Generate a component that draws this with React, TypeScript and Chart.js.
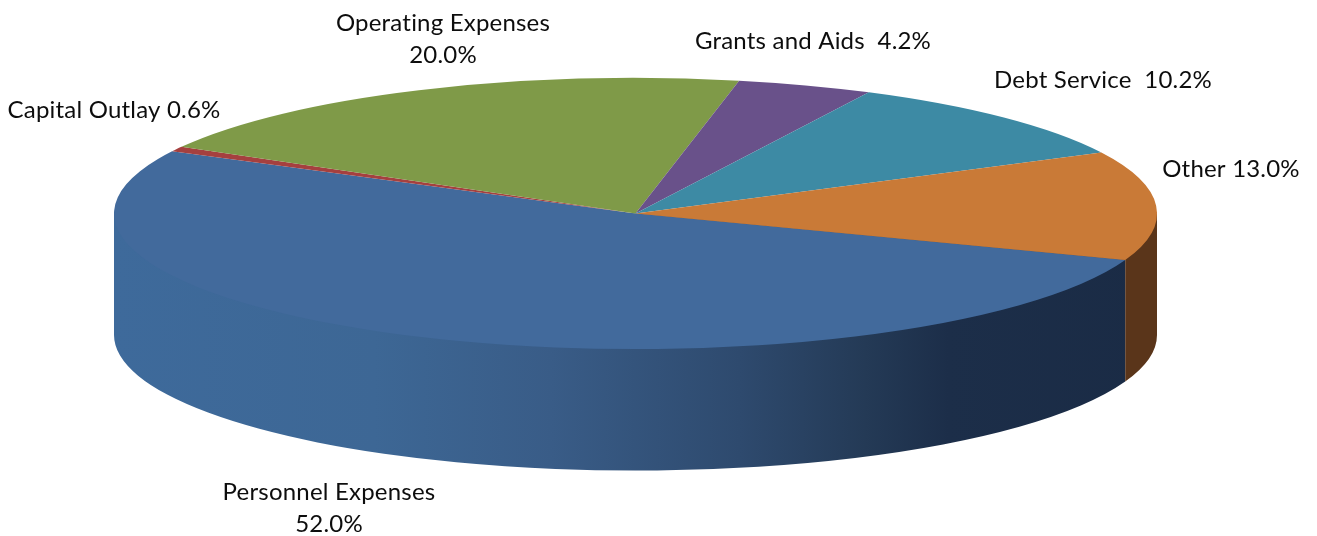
import React, { useEffect, useRef } from "react";
import { Chart, registerables } from "chart.js";

Chart.register(...registerables);

const categories = ["Personnel Expenses", "Capital Outlay", "Operating Expenses", "Grants and Aids", "Debt Service", "Other"];
const shares = [52.0, 0.6, 20.0, 4.2, 10.2, 13.0];
const labelLines = [
  ["Personnel Expenses", "52.0%"],
  ["Capital Outlay 0.6%"],
  ["Operating Expenses", "20.0%"],
  ["Grants and Aids  4.2%"],
  ["Debt Service  10.2%"],
  ["Other 13.0%"],
];

const faceColors = ["#426a9c", "#a5403f", "#7f9a48", "#69518a", "#3d8aa4", "#c97a37"];
const labelCenters = [
  [329, 492],
  [114, 110],
  [443, 23],
  [813, 41],
  [1103, 80],
  [1231, 169],
];

const CENTER_X = 635.5;
const CENTER_Y = 213.5;
const RADIUS = 521.5;
const SQUASH = 135.5 / 521.5;
const DEPTH = 121.5;
const LINE_HEIGHT = 32;

const blueWall: [number, string][] = [
  [0, "#3e6a9b"],
  [0.25, "#3d6795"],
  [0.42, "#395c87"],
  [0.6, "#2e4a6e"],
  [0.72, "#243a56"],
  [0.8, "#1c2e49"],
  [1, "#1a2b45"],
];
const wallFlat = ["", "#5a2020", "#4a5a28", "#3c2d50", "#20505f", "#5a351a"];

const pie3d = {
  id: "pie3d",
  beforeDatasetsDraw(chart: any) {
    const ctx = chart.ctx;
    const arcs = chart.getDatasetMeta(0).data;
    const x = arcs[0].x;
    const y = arcs[0].y;
    const r = arcs[0].outerRadius;
    const ry = r * SQUASH;
    arcs.forEach((arc: any, i: number) => {
      for (let k = -1; k <= 1; k++) {
        const a0 = Math.max(arc.startAngle, k * 2 * Math.PI);
        const a1 = Math.min(arc.endAngle, k * 2 * Math.PI + Math.PI);
        if (a1 <= a0) continue;
        ctx.save();
        ctx.beginPath();
        ctx.moveTo(x + r * Math.cos(a0), y + ry * Math.sin(a0));
        ctx.ellipse(x, y + DEPTH, r, ry, 0, a0, a1);
        ctx.lineTo(x + r * Math.cos(a1), y + ry * Math.sin(a1));
        ctx.lineTo(x, y);
        ctx.closePath();
        if (i === 0) {
          const g = ctx.createLinearGradient(x - r, 0, x + r, 0);
          blueWall.forEach(([p, c]) => g.addColorStop(p, c));
          ctx.fillStyle = g;
        } else {
          ctx.fillStyle = wallFlat[i];
        }
        ctx.fill();
        ctx.restore();
      }
    });
    ctx.save();
    ctx.translate(0, y);
    ctx.scale(1, SQUASH);
    ctx.translate(0, -y);
  },
  afterDatasetsDraw(chart: any) {
    chart.ctx.restore();
  },
  afterDraw(chart: any) {
    const ctx = chart.ctx;
    ctx.save();
    ctx.font = '24px Lato, "Open Sans", sans-serif';
    ctx.letterSpacing = "0.2px";
    ctx.fillStyle = "#0d0d0d";
    ctx.textAlign = "center";
    ctx.textBaseline = "middle";
    labelLines.forEach((lines, i) => {
      lines.forEach((line, j) => {
        ctx.fillText(line, labelCenters[i][0], labelCenters[i][1] + j * LINE_HEIGHT);
      });
    });
    ctx.restore();
  },
};

export default function App() {
  const ref = useRef<HTMLCanvasElement>(null);
  useEffect(() => {
    document.body.style.margin = "0";
    const chart = new Chart(ref.current as HTMLCanvasElement, {
      type: "pie",
      data: {
        labels: categories,
        datasets: [
          {
            data: shares,
            backgroundColor: faceColors,
            borderWidth: 0,
            clip: false,
          } as any,
        ],
      },
      options: {
        animation: false,
        responsive: false,
        rotation: 110.1,
        radius: RADIUS,
        layout: {
          padding: {
            left: 0,
            top: 0,
            right: 1317 - 2 * CENTER_X,
            bottom: 536 - 2 * CENTER_Y,
          },
        },
        plugins: { legend: { display: false }, tooltip: { enabled: false } },
      } as any,
      plugins: [pie3d],
    });
    return () => chart.destroy();
  }, []);
  return <canvas ref={ref} width={1317} height={536} style={{ display: "block" }} />;
}
